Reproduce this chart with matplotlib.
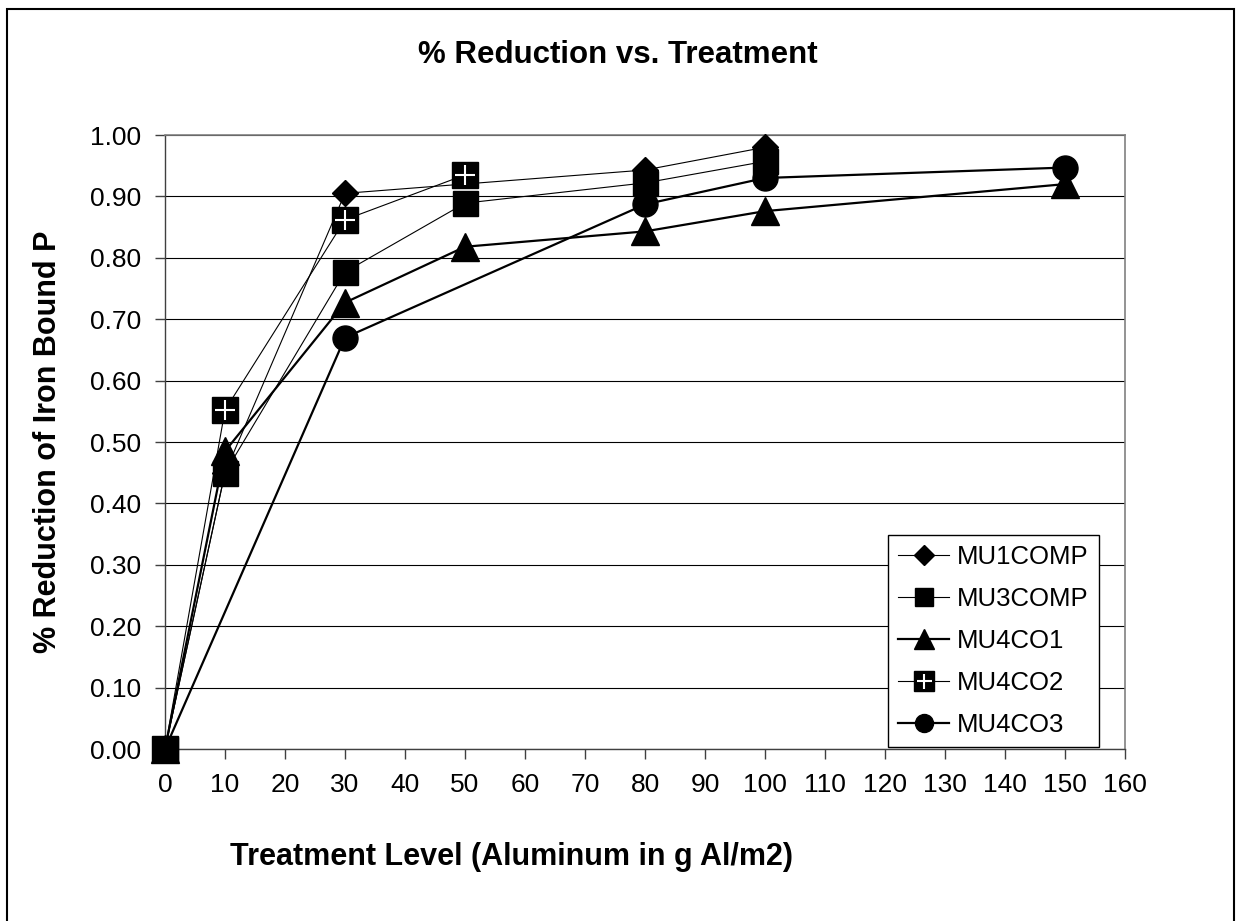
import matplotlib
matplotlib.use("Agg")
import matplotlib.pyplot as plt
from matplotlib.patches import Rectangle
from matplotlib.legend_handler import HandlerTuple

plt.rcParams["font.family"] = ["Liberation Sans", "DejaVu Sans"]

# data
mu1comp_x = [0, 10, 30, 80, 100]
mu1comp_y = [0.0, 0.45, 0.905, 0.943, 0.98]
mu3comp_x = [0, 10, 30, 50, 80, 100]
mu3comp_y = [0.0, 0.45, 0.777, 0.889, 0.922, 0.957]
mu4co1_x = [0, 10, 30, 50, 80, 100, 150]
mu4co1_y = [0.0, 0.485, 0.727, 0.818, 0.843, 0.876, 0.92]
mu4co2_x = [0, 10, 30, 50]
mu4co2_y = [0.0, 0.552, 0.862, 0.935]
mu4co3_x = [0, 30, 80, 100, 150]
mu4co3_y = [0.0, 0.67, 0.887, 0.93, 0.947]

x_ticks = list(range(0, 161, 10))
y_ticks = [i / 10 for i in range(11)]

W, H = 1236, 921
fig = plt.figure(figsize=(W / 100, H / 100), dpi=100)
fig.patches.append(Rectangle((7 / W, -0.01), 1227 / W, 1.01 - 9 / H,
                             transform=fig.transFigure, fill=False,
                             edgecolor="black", linewidth=1.5))

ax = fig.add_axes([165 / W, 1 - 749 / H, 960 / W, 614 / H])

h1, = ax.plot(mu1comp_x, mu1comp_y, color="black", lw=0.8, marker="D",
              ms=13.7, clip_on=False, zorder=3, label="MU1COMP")
h2, = ax.plot(mu3comp_x, mu3comp_y, color="black", lw=0.8, marker="s",
              ms=18, clip_on=False, zorder=3, label="MU3COMP")
h3, = ax.plot(mu4co1_x, mu4co1_y, color="black", lw=1.6, marker="^",
              ms=19.5, clip_on=False, zorder=3, label="MU4CO1")
h4, = ax.plot(mu4co2_x, mu4co2_y, color="black", lw=0.8, marker="s",
              ms=19.4, clip_on=False, zorder=3, label="MU4CO2")
# white cross inside the MU4CO2 squares (hidden under the pile at 0)
h4p, = ax.plot(mu4co2_x, mu4co2_y, ls="None", marker="+", ms=15,
               mec="white", mew=1.5, markevery=slice(1, None),
               clip_on=False, zorder=4)
h5, = ax.plot(mu4co3_x, mu4co3_y, color="black", lw=1.6, marker="o",
              ms=18, clip_on=False, zorder=3, label="MU4CO3")

ax.set_xlim(0, 160)
ax.set_ylim(0, 1.0)
ax.set_xticks(x_ticks)
ax.set_xticklabels([str(v) for v in x_ticks])
ax.set_yticks(y_ticks)
ax.set_yticklabels([f"{v:.2f}" for v in y_ticks])
ax.tick_params(axis="both", direction="out", length=7, width=1,
               color="#404040", labelsize=19, pad=10)
ax.yaxis.grid(True, color="black", linewidth=0.8)
ax.set_axisbelow(True)
for side in ["left", "bottom"]:
    ax.spines[side].set_color("#404040")
    ax.spines[side].set_linewidth(1.0)
for side in ["top", "right"]:
    ax.spines[side].set_color("#808080")
    ax.spines[side].set_linewidth(1.2)

leg = ax.legend([h1, h2, h3, (h4, h4p), h5],
                ["MU1COMP", "MU3COMP", "MU4CO1", "MU4CO2", "MU4CO3"],
                handler_map={tuple: HandlerTuple(ndivide=1)},
                loc="lower right", bbox_to_anchor=(1099 / W, 1 - 747 / H),
                bbox_transform=fig.transFigure, fontsize=18.5,
                markerscale=0.72, handlelength=2.0, handletextpad=0.3,
                labelspacing=0.7, borderpad=0.4, borderaxespad=0,
                fancybox=False, framealpha=1, edgecolor="black")
leg.get_frame().set_linewidth(1.0)

fig.text(618 / W, 1 - 55 / H, "% Reduction vs. Treatment", ha="center",
         va="center", fontsize=22.5, fontweight="bold")
fig.text(512 / W, 1 - 857 / H, "Treatment Level (Aluminum in g Al/m2)",
         ha="center", va="center", fontsize=22, fontweight="bold")
fig.text(48 / W, 1 - 442 / H, "% Reduction of Iron Bound P", ha="center",
         va="center", rotation=90, fontsize=22, fontweight="bold")

fig.savefig("out.png", dpi=100)
